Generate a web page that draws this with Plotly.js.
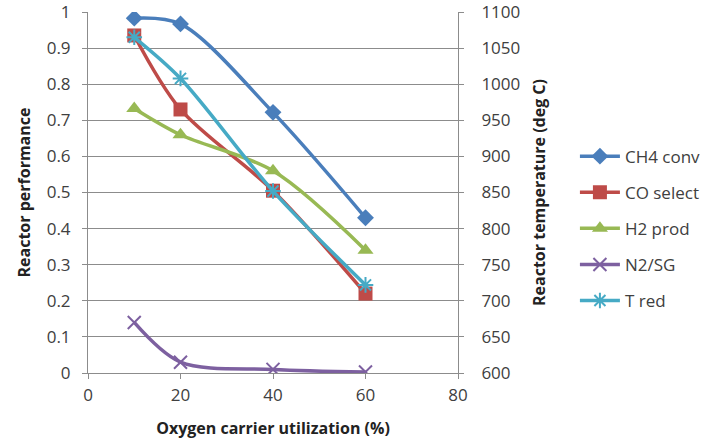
<!DOCTYPE html>
<html><head><meta charset="utf-8">
<script src="https://cdn.plot.ly/plotly-3.0.1.min.js"></script>
<style>html,body{margin:0;padding:0;background:#fff}#chart{width:712px;height:439px}</style>
</head><body><div id="chart"></div>
<script>
const utilization = [10, 20, 40, 60];
const ch4Conv = [0.983, 0.967, 0.722, 0.43];
const coSelect = [0.935, 0.73, 0.505, 0.22];
const h2Prod = [0.733, 0.66, 0.56, 0.34];
const n2SG = [0.14, 0.03, 0.01, 0.003];
const tRed = [1065, 1008, 852, 722];
const seriesNames = ["CH4 conv", "CO select", "H2 prod", "N2/SG", "T red"];

const FONT = "Open Sans, Liberation Sans, sans-serif";
const gridC = "#8c8c8c";
function tr(name, y, color, symbol, axis, size, open){
  const m = {color: color, symbol: symbol, size: size};
  if (open) m.line = {color: color, width: 2};
  return {x: utilization, y: y, name: name, legendgroup: name, type: "scatter", mode: "lines+markers",
    yaxis: axis, line: {color: color, width: 3.5, shape: "spline", smoothing: 0.9},
    marker: m};
}
const data = [
  tr(seriesNames[0], ch4Conv, "#4a7ebb", "diamond", "y", 13, false),
  tr(seriesNames[1], coSelect, "#be4b48", "square", "y", 14, false),
  tr(seriesNames[2], h2Prod, "#98b954", "triangle-up", "y", 14, false),
  tr(seriesNames[3], n2SG, "#7d60a0", "x-thin-open", "y", 13, true),
  tr(seriesNames[4], tRed, "#46aac5", "asterisk-open", "y2", 13, true)
];
const tickF = {family: FONT, size: 17, color: "#404040"};
const titleF = {family: FONT, size: 16, color: "#222"};
const layout = {
  width: 712, height: 439,
  margin: {l: 88, r: 254, t: 12, b: 66, autoexpand: false},
  paper_bgcolor: "#fff", plot_bgcolor: "#fff",
  font: {family: FONT, size: 17, color: "#404040"},
  showlegend: true,
  legend: {x: 1.316, xanchor: "left", y: 0.40, yanchor: "middle",
    font: {family: FONT, size: 17, color: "#404040"}, itemwidth: 40, tracegroupgap: 11},
  xaxis: {range: [0, 80], dtick: 20, tick0: 0, showgrid: false, zeroline: false,
    showline: true, linecolor: gridC, linewidth: 1, ticks: "outside", ticklen: 5, tickcolor: gridC,
    tickfont: tickF, ticklabelstandoff: 2, ticklabeloverflow: "allow",
    title: {text: "<b>Oxygen carrier utilization (%)</b>", font: titleF, standoff: 22}},
  yaxis: {range: [0, 1], dtick: 0.1, tick0: 0, showgrid: true, gridcolor: gridC, gridwidth: 1,
    zeroline: false, showline: true, linecolor: gridC, ticks: "outside", ticklen: 5, tickcolor: gridC,
    tickfont: tickF, ticklabelstandoff: 8, ticklabeloverflow: "allow",
    title: {text: "<b>Reactor performance</b>", font: titleF, standoff: 12}},
  yaxis2: {range: [600, 1100], dtick: 50, tick0: 600, overlaying: "y", side: "right",
    showgrid: false, zeroline: false, showline: true, linecolor: gridC, ticks: "outside", ticklen: 5, tickcolor: gridC,
    tickfont: tickF, ticklabelstandoff: 14, ticklabeloverflow: "allow",
    title: {text: "<b>Reactor temperature (deg C)</b>", font: titleF, standoff: 14}}
};
Plotly.newPlot("chart", data, layout, {displayModeBar: false, staticPlot: true});
</script></body></html>
